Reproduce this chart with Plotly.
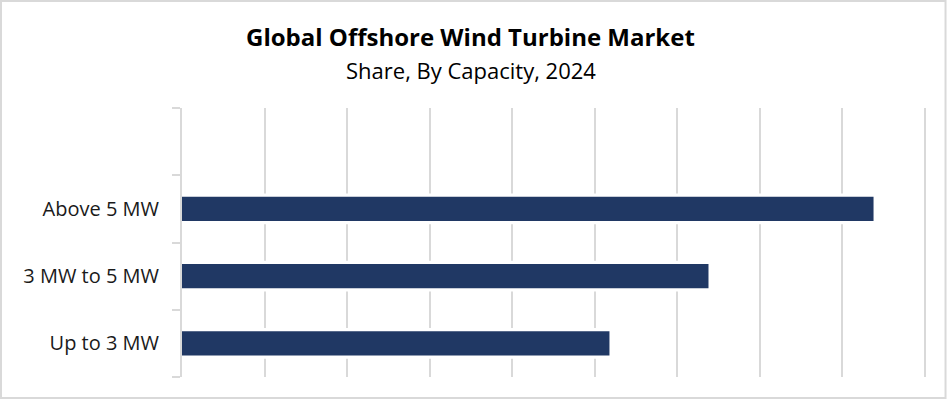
import plotly.graph_objects as go

categories = ["Up to 3 MW", "3 MW to 5 MW", "Above 5 MW", " "]
shares = [25.9, 31.9, 41.9, None]
x_ticks = [0, 5, 10, 15, 20, 25, 30, 35, 40, 45]

BAR = "#203864"
GRID = "#d9d9d9"
FONT = "Open Sans"

fig = go.Figure()
# white halo behind bars (breaks gridlines like the reference)
fig.add_trace(go.Bar(y=categories, x=shares, orientation="h", width=0.46,
                     marker=dict(color="white", line=dict(width=0)),
                     hoverinfo="skip", showlegend=False))
fig.add_trace(go.Bar(y=categories, x=shares, orientation="h", width=0.36,
                     marker=dict(color=BAR, line=dict(width=0)),
                     showlegend=False))

fig.update_layout(
    width=947, height=400,
    barmode="overlay",
    margin=dict(l=182, r=19, t=108, b=23),
    paper_bgcolor="white", plot_bgcolor="white",
    xaxis=dict(range=[0, 45.2], tickvals=x_ticks, showticklabels=False,
               showgrid=True, gridcolor=GRID, gridwidth=2,
               zeroline=False, showline=False, fixedrange=True),
    yaxis=dict(categoryorder="array", categoryarray=categories,
               range=[-0.5, 3.5], tickson="boundaries", ticks="outside",
               ticklen=8, tickwidth=2, tickcolor=GRID,
               showline=True, linecolor=GRID, linewidth=2,
               showgrid=False, zeroline=False, fixedrange=True,
               tickfont=dict(family=FONT, size=20, color="#1a1a1a"),
               ticklabelstandoff=17),
    annotations=[
        dict(text="<b>Global Offshore Wind Turbine Market</b>",
             xref="paper", yref="paper", x=0.387, y=1.264,
             xanchor="center", yanchor="middle", showarrow=False,
             font=dict(family=FONT, size=24, color="black")),
        dict(text="Share, By Capacity, 2024",
             xref="paper", yref="paper", x=0.387, y=1.141,
             xanchor="center", yanchor="middle", showarrow=False,
             font=dict(family=FONT, size=22, color="black")),
    ],
    shapes=[dict(type="rect", xref="paper", yref="paper",
                 x0=-0.2426, x1=1.0235, y0=-0.078, y1=1.398,
                 line=dict(color="#d9d9d9", width=2), fillcolor="rgba(0,0,0,0)",
                 layer="below")],
)

fig.write_html("out.html", config={"displayModeBar": False},
               post_script="document.body.style.margin='0';")
